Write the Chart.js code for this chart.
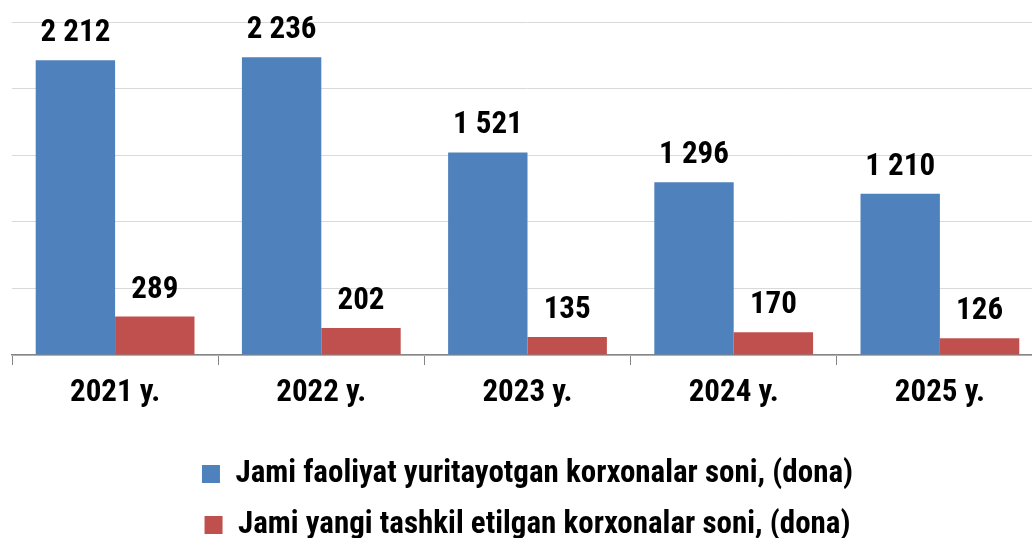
<!DOCTYPE html>
<html>
  <head>
    <title>Korxonalar soni</title>
    <script src="https://cdn.jsdelivr.net/npm/chart.js@4/dist/chart.umd.min.js"></script>
    <style>
      html, body {
        margin: 0;
        padding: 0;
        overflow: hidden;
        background: #fff;
      }
    </style>
  </head>

  <body>
    <div id="container" style="width: 1043px; height: 538px">
      <canvas id="canvas" width="1043" height="538"></canvas>
    </div>
    <script>
      const years = ['2021 y.', '2022 y.', '2023 y.', '2024 y.', '2025 y.'];
      const activeTotal = [2212, 2236, 1521, 1296, 1210];
      const newlyCreated = [289, 202, 135, 170, 126];
      const seriesNames = [
        'Jami faoliyat yuritayotgan korxonalar soni, (dona)',
        'Jami yangi tashkil etilgan korxonalar soni, (dona)',
      ];

      const FONT = "'Roboto Condensed', 'Liberation Sans Narrow', 'Arial Narrow', sans-serif";

      // 2212 -> "2 212"
      const fmt = (v) => String(v).replace(/\B(?=(\d{3})+(?!\d))/g, ' ');

      // value labels above the bars
      const valueLabels = {
        id: 'valueLabels',
        afterDatasetsDraw(chart) {
          const ctx = chart.ctx;
          ctx.save();
          ctx.font = 'bold 31px ' + FONT;
          ctx.fillStyle = '#000';
          ctx.textAlign = 'center';
          ctx.textBaseline = 'alphabetic';
          chart.data.datasets.forEach((ds, i) => {
            chart.getDatasetMeta(i).data.forEach((bar, j) => {
              ctx.fillText(fmt(ds.data[j]), bar.x, bar.y - 19);
            });
          });
          ctx.restore();
        },
      };

      new Chart(document.getElementById('canvas'), {
        type: 'bar',
        data: {
          labels: years,
          datasets: [
            {
              label: seriesNames[0],
              data: activeTotal,
              backgroundColor: '#4f81bd',
            },
            {
              label: seriesNames[1],
              data: newlyCreated,
              backgroundColor: '#c0504d',
            },
          ],
        },
        options: {
          responsive: false,
          animation: false,
          devicePixelRatio: 1,
          categoryPercentage: 0.77,
          barPercentage: 1,
          layout: {
            padding: { left: 12, right: 0, top: 22, bottom: -12.5 },
          },
          plugins: {
            tooltip: { enabled: false },
            legend: {
              position: 'bottom',
              labels: {
                boxWidth: 18,
                boxHeight: 18,
                padding: 20,
                color: '#000',
                font: { family: FONT, size: 31, weight: 'bold' },
              },
            },
          },
          scales: {
            x: {
              afterFit: (scale) => {
                // leave room between the year labels and the legend
                scale.height = 83.5;
              },
              grid: {
                drawOnChartArea: false,
                drawTicks: true,
                tickLength: 10,
                color: '#868686',
                offset: true,
              },
              border: { display: true, color: '#868686', width: 1.5 },
              ticks: {
                color: '#000',
                padding: 10,
                font: { family: FONT, size: 31, weight: 'bold' },
              },
            },
            y: {
              min: 0,
              max: 2500,
              ticks: { display: false, stepSize: 500 },
              grid: { color: '#d9d9d9', drawTicks: false },
              border: { display: false },
            },
          },
        },
        plugins: [valueLabels],
      });
    </script>
  </body>
</html>
